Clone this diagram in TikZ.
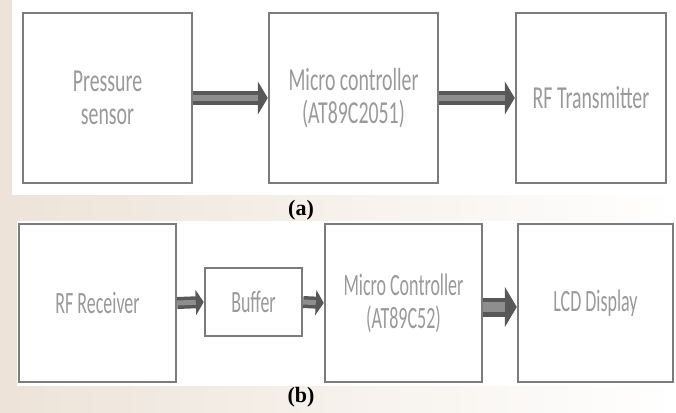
\documentclass[tikz,border=0pt]{standalone}
\usepackage{fontspec}
\usetikzlibrary{arrows.meta,calc}
\newfontfamily\cf[FakeStretch=0.62]{Carlito}
\newfontfamily\cfb[FakeStretch=0.58]{Carlito}
\newfontfamily\capfont{Liberation Serif}
\definecolor{boxline}{HTML}{7C7C7C}
\definecolor{boxtext}{HTML}{9A9A9A}
\definecolor{arrdark}{HTML}{585858}
\definecolor{arrlight}{HTML}{8E8E8E}
\definecolor{beige}{HTML}{EDE3D8}
\tikzset{
  blk/.style={draw=boxline, line width=2.5pt, fill=white, align=center, text=boxtext,
     font=\cf\fontsize{32}{33}\selectfont, inner sep=0pt},
  blkb/.style={blk, font=\cfb\fontsize{31}{33}\selectfont},
  captxt/.style={font=\capfont\bfseries\fontsize{22}{24}\selectfont, text=black, inner sep=0pt},
}
\begin{document}
\begin{tikzpicture}[x=1pt,y=-1pt]
\useasboundingbox (0,0) rectangle (676,412);
% background
\shade[left color=beige, right color=white] (0,0) rectangle (676,412);
\fill[white] (12,0) rectangle (676,195);
\fill[white] (17,221) rectangle (676,386);
% row (a)
\node[blk, minimum width=169pt, minimum height=170pt] (a1) at (107.5,98) {Pressure\\sensor};
\node[blk, minimum width=169pt, minimum height=170pt] (a2) at (353.5,98) {Micro controller\\(AT89C2051)};
\node[blk, minimum width=150pt, minimum height=170pt] (a3) at (591,98) {RF Transmitter};
% row (b)
\node[blkb, minimum width=157pt, minimum height=158pt] (b1) at (97.5,303) {RF Receiver};
\node[blkb, minimum width=97pt, minimum height=68pt] (b2) at (253.5,302) {Buffer};
\node[blkb, minimum width=157pt, minimum height=158pt] (b3) at (403.5,303) {Micro Controller\\(AT89C52)};
\node[blkb, minimum width=155pt, minimum height=158pt] (b4) at (595.5,303) {LCD Display};
% arrows (a)
\foreach \s/\t in {a1/a2,a2/a3}{
  \draw[arrdark, line width=14pt, -{Triangle[length=10pt,width=33pt]}] (\s.east) -- (\t.west);
  \draw[arrlight, line width=6pt, shorten >=10pt] (\s.east) -- (\t.west);
}
% arrows (b)
\foreach \s/\t in {b1/b2,b2/b3}{
  \draw[arrdark, line width=12pt, -{Triangle[length=8pt,width=25pt]}] (\s.east) -- (\t.west);
  \draw[arrlight, line width=5pt, shorten >=8pt] (\s.east) -- (\t.west);
}
\draw[arrdark, line width=19pt, -{Triangle[length=12pt,width=40pt]}] ($(b3.east)+(0,4)$) -- ($(b4.west)+(0,4)$);
\draw[arrlight, line width=10pt, shorten >=12pt] ($(b3.east)+(0,4)$) -- ($(b4.west)+(0,4)$);
% captions
\node[captxt] (capa) at (301,210) {(a)};
\node[captxt] (capb) at (301,397) {(b)};
\end{tikzpicture}
\end{document}
